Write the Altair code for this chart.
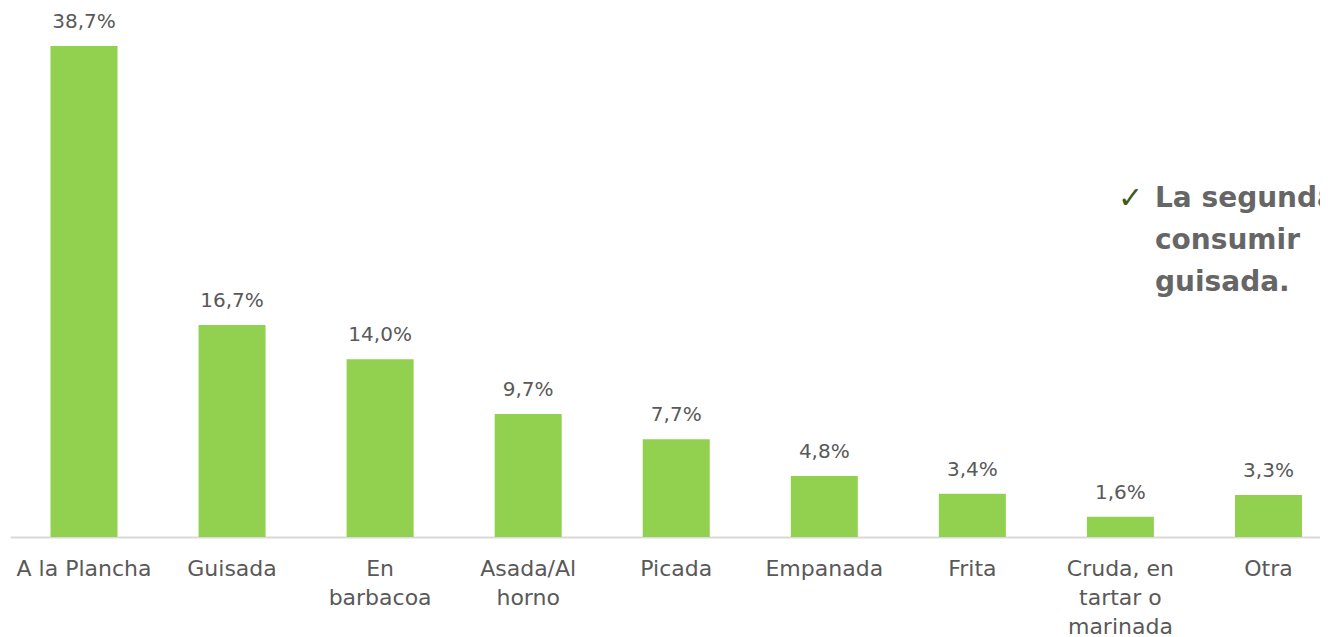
import altair as alt
import pandas as pd

categories = ["A la Plancha", "Guisada", "En\nbarbacoa", "Asada/Al\nhorno", "Picada",
              "Empanada", "Frita", "Cruda, en\ntartar  o\nmarinada", "Otra"]
values = [38.7, 16.7, 14.0, 9.7, 7.7, 4.8, 3.4, 1.6, 3.3]
labels = [f"{v:.1f}%".replace(".", ",") for v in values]

note_lines = ["La segunda", "consumir", "guisada."]

df = pd.DataFrame({"cat": categories, "val": values, "lab": labels})

FONT = "DejaVu Sans"
GRAY = "#595959"

x = alt.X("cat:N", sort=None, title=None,
          scale=alt.Scale(paddingInner=0.5475, paddingOuter=0.1976, align=0.692),
          axis=alt.Axis(labelExpr="split(datum.label, '\\n')", labelAngle=0,
                        labelFont=FONT, labelFontSize=22, labelColor=GRAY,
                        labelPadding=21, labelLineHeight=29, labelBaseline="top",
                        ticks=False, domainColor="#d9d9d9", domainWidth=2,
                        labelOverlap=False))
y = alt.Y("val:Q", scale=alt.Scale(domain=[0, 41.37], nice=False), axis=None)

bars = alt.Chart(df).mark_bar(color="#92D050").encode(x=x, y=y)
text = alt.Chart(df).mark_text(dy=-14, font=FONT, fontSize=20, color=GRAY,
                               baseline="bottom").encode(x=x, y=y, text="lab:N")

note_df = pd.DataFrame({"t": ["\n".join(note_lines)]})
note = alt.Chart(note_df).mark_text(align="left", baseline="alphabetic", font=FONT,
                                    fontSize=28, fontWeight="bold", color="#666666",
                                    lineBreak="\n", lineHeight=42).encode(
    x=alt.value(1145), y=alt.value(195), text="t:N")
check = alt.Chart(pd.DataFrame({"t": ["✓"]})).mark_text(
    align="left", baseline="alphabetic", font=FONT, fontSize=30, color="#3f5a1e").encode(
    x=alt.value(1108), y=alt.value(196), text="t:N")

chart = alt.layer(bars, text, note, check).properties(
    width=1310, height=525,
    autosize=alt.AutoSizeParams(type="none"),
    padding={"left": 2, "top": 4, "right": 0, "bottom": 99},
).configure_view(stroke=None)

chart.save("out.html", embed_options={"renderer": "svg", "actions": False})
